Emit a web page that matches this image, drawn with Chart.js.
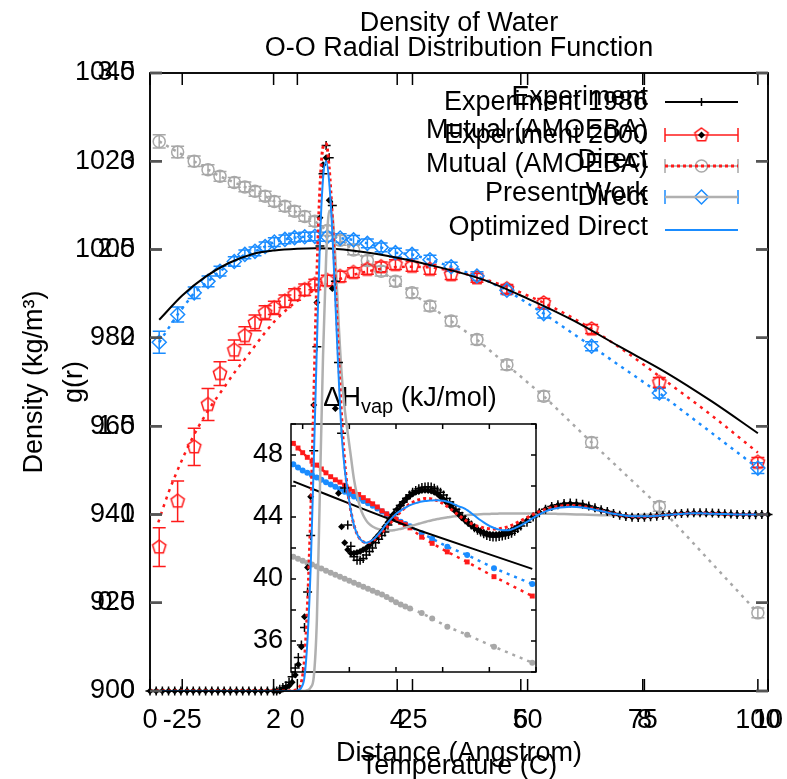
<!DOCTYPE html>
<html>
<head>
<meta charset="utf-8">
<script src="https://cdn.jsdelivr.net/npm/chart.js@4.4.1/dist/chart.umd.min.js"></script>
<style>
  html, body { margin: 0; padding: 0; background: #fff; }
  #wrap { position: relative; width: 787px; height: 779px; overflow: hidden; }
  #wrap canvas { position: absolute; }
</style>
</head>
<body>
<div id="wrap">
  <canvas id="densityChart" width="787" height="779" style="left:0;top:0;width:787px;height:779px"></canvas>
  <canvas id="insetChart" width="300" height="300" style="left:240px;top:380px;width:300px;height:300px"></canvas>
  <canvas id="rdfChart" width="787" height="779" style="left:0;top:0;width:787px;height:779px"></canvas>
</div>
<script>
const FONT = '"Liberation Sans", Arial, Helvetica, sans-serif';
const FS = 27;
const RED = '#ff1a1a';
const BLUE = '#1a8cff';
const GRAY = '#a8a8a8';

// ---- Density of water (temperature in C, density in kg/m3) ----
const tempSim = [-30, -26, -22.4, -19.4, -16.8, -13.7, -11.4, -9.2, -7, -5, -2.7, -0.6, 1.6, 3.8, 6.5, 9.3, 12.2, 15.2, 18.2, 21.3, 24.9, 28.8, 33.4, 39, 45.5, 53.5, 63.9, 78.6, 100];
const densMutual = [932.6, 943.0, 955.3, 964.9, 971.9, 977.2, 980.5, 983.4, 985.7, 986.8, 988.3, 989.8, 990.9, 992.1, 993.0, 993.9, 994.8, 995.5, 996.1, 996.6, 996.2, 995.5, 994.3, 993.6, 991.1, 987.9, 982.0, 969.9, 951.8];
const errMutual = [4.4, 4.6, 4.2, 3.6, 2.7, 2.3, 2.0, 1.8, 1.6, 1.5, 1.4, 1.3, 1.3, 1.2, 1.2, 1.2, 1.1, 1.1, 1.1, 1.1, 1.1, 1.1, 1.1, 1.0, 1.0, 1.0, 1.0, 1.1, 1.1];
const densPresent = [979.0, 985.3, 990.2, 992.8, 995.1, 997.3, 998.9, 999.6, 1000.7, 1001.7, 1002.3, 1002.7, 1002.9, 1003.0, 1002.9, 1002.6, 1002.2, 1001.4, 1000.5, 999.3, 998.9, 997.7, 996.1, 994.0, 990.8, 985.5, 978.1, 967.5, 950.5];
const errPresent = [2.5, 1.7, 1.3, 1.2, 1.1, 1.1, 1.0, 1.0, 1.0, 1.0, 1.0, 1.0, 1.0, 1.0, 1.0, 1.0, 1.0, 1.0, 1.0, 1.0, 1.0, 1.0, 1.0, 1.0, 1.0, 1.0, 1.0, 1.1, 1.2];
const densDirect = [1024.5, 1022.1, 1020.0, 1018.1, 1016.6, 1015.2, 1014.2, 1013.2, 1012.1, 1010.9, 1009.8, 1008.7, 1007.5, 1006.4, 1004.3, 1002.1, 999.9, 997.5, 995.1, 992.8, 990.2, 987.2, 983.8, 979.6, 973.9, 966.8, 956.3, 941.8, 917.7];
const errDirect = [1.5, 1.3, 1.2, 1.1, 1.1, 1.1, 1.1, 1.1, 1.1, 1.1, 1.1, 1.1, 1.1, 1.1, 1.1, 1.1, 1.1, 1.1, 1.1, 1.1, 1.1, 1.1, 1.1, 1.1, 1.1, 1.1, 1.1, 1.1, 1.1];
const tempExp = [-30, -25, -20, -15, -10, -5, 0, 4, 10, 20, 30, 40, 50, 60, 70, 80, 90, 100];
const densExp = [984.1, 989.6, 993.8, 996.9, 998.9, 999.8, 1000.2, 1000.3, 1000.0, 998.5, 996.2, 993.3, 988.9, 983.9, 978.0, 972.2, 965.6, 958.4];
// dotted fit through the Mutual (AMOEBA) points
const tempMutualFit = [-30.2, -28, -25.2, -23.2, -19.7, -16.1, -13.4, -11.3, -9.2, -7, -4.8, 0, 5, 10, 15, 20, 25, 30, 40, 50, 60, 70, 80, 90, 100];
const densMutualFit = [938.2, 944.9, 952.0, 956.5, 963.0, 968.5, 972.5, 975.3, 978.2, 981.2, 983.9, 988.4, 991.5, 993.6, 995.0, 995.9, 996.1, 995.8, 993.5, 989.6, 984.4, 977.8, 970.2, 962.4, 954.0];

const tempTicks = [-25, 0, 25, 50, 75, 100];
const densTicks = [900, 920, 940, 960, 980, 1000, 1020, 1040];
const densLabels = ['Experiment', 'Mutual (AMOEBA)', 'Direct', 'Present Work'];

// ---- O-O radial distribution function (distance in Angstrom) ----
const dist = [0, 0.1, 0.2, 0.3, 0.4, 0.5, 0.6, 0.7, 0.8, 0.9, 1, 1.1, 1.2, 1.3, 1.4, 1.5, 1.6, 1.7, 1.8, 1.9, 2,
  2.05, 2.1, 2.15, 2.2, 2.25, 2.3, 2.35, 2.4, 2.45, 2.5, 2.55, 2.6, 2.65, 2.7, 2.75, 2.8, 2.85, 2.9, 2.95, 3,
  3.05, 3.1, 3.15, 3.2, 3.25, 3.3, 3.35, 3.4, 3.45, 3.5, 3.55, 3.6, 3.65, 3.7, 3.75, 3.8, 3.85, 3.9, 3.95, 4,
  4.05, 4.1, 4.15, 4.2, 4.25, 4.3, 4.35, 4.4, 4.45, 4.5, 4.55, 4.6, 4.65, 4.7, 4.75, 4.8, 4.85, 4.9, 4.95, 5,
  5.05, 5.1, 5.15, 5.2, 5.25, 5.3, 5.35, 5.4, 5.45, 5.5, 5.55, 5.6, 5.65, 5.7, 5.75, 5.8, 5.85, 5.9, 5.95, 6,
  6.1, 6.2, 6.3, 6.4, 6.5, 6.6, 6.7, 6.8, 6.9, 7, 7.1, 7.2, 7.3, 7.4, 7.5, 7.6, 7.7, 7.8, 7.9, 8,
  8.1, 8.2, 8.3, 8.4, 8.5, 8.6, 8.7, 8.8, 8.9, 9, 9.1, 9.2, 9.3, 9.4, 9.5, 9.6, 9.7, 9.8, 9.9, 10];
const gExp1986 = [0, 0, 0, 0, 0, 0, 0, 0, 0, 0, 0, 0, 0, 0, 0, 0, 0, 0, 0, 0, 0,
  0, 0.01, 0.02, 0.03, 0.05, 0.08, 0.13, 0.19, 0.26, 0.36, 0.56, 0.88, 1.36, 1.95, 2.52, 2.93, 3.09, 3.02, 2.75, 2.32,
  1.86, 1.46, 1.15, 0.94, 0.82, 0.76, 0.74, 0.74, 0.75, 0.77, 0.79, 0.81, 0.84, 0.86, 0.88, 0.9, 0.94, 0.97, 1.0, 1.03,
  1.05, 1.07, 1.09, 1.11, 1.125, 1.135, 1.145, 1.152, 1.156, 1.157, 1.155, 1.148, 1.138, 1.125, 1.11, 1.09, 1.07, 1.05, 1.03, 1.01,
  0.99, 0.97, 0.955, 0.94, 0.925, 0.91, 0.9, 0.89, 0.88, 0.875, 0.872, 0.872, 0.875, 0.878, 0.882, 0.887, 0.893, 0.905, 0.92, 0.935,
  0.955, 0.985, 1.01, 1.03, 1.045, 1.055, 1.062, 1.065, 1.063, 1.057, 1.048, 1.038, 1.027, 1.016, 1.005, 0.995, 0.988, 0.984, 0.983, 0.984,
  0.987, 0.99, 0.994, 0.998, 1.002, 1.005, 1.008, 1.009, 1.01, 1.009, 1.008, 1.006, 1.004, 1.002, 1.0, 0.999, 0.998, 0.998, 0.999, 1.0];
const gExp2000 = [0, 0, 0, 0, 0, 0, 0, 0, 0, 0, 0, 0, 0, 0, 0, 0, 0, 0, 0, 0, 0,
  0, 0, 0.01, 0.02, 0.03, 0.05, 0.09, 0.15, 0.25, 0.42, 0.7, 1.1, 1.62, 2.2, 2.68, 2.98, 3.02, 2.78, 2.28, 1.6,
  1.12, 0.93, 0.84, 0.8, 0.78, 0.78, 0.785, 0.79, 0.8, 0.81, 0.825, 0.845, 0.865, 0.885, 0.905, 0.93, 0.955, 0.98, 1.005, 1.03,
  1.05, 1.07, 1.09, 1.105, 1.115, 1.125, 1.13, 1.135, 1.137, 1.136, 1.132, 1.125, 1.115, 1.1, 1.085, 1.068, 1.05, 1.032, 1.015, 0.998,
  0.98, 0.965, 0.95, 0.937, 0.925, 0.915, 0.905, 0.898, 0.892, 0.888, 0.886, 0.886, 0.888, 0.892, 0.897, 0.903, 0.91, 0.92, 0.932, 0.945,
  0.965, 0.99, 1.012, 1.03, 1.043, 1.052, 1.058, 1.06, 1.058, 1.053, 1.045, 1.035, 1.025, 1.015, 1.005, 0.997, 0.99, 0.986, 0.985, 0.986,
  0.988, 0.991, 0.995, 0.999, 1.002, 1.005, 1.007, 1.008, 1.008, 1.007, 1.006, 1.005, 1.003, 1.001, 1.0, 0.999, 0.999, 0.999, 1.0, 1.0];
const gMutual = [0, 0, 0, 0, 0, 0, 0, 0, 0, 0, 0, 0, 0, 0, 0, 0, 0, 0, 0, 0, 0,
  0, 0, 0, 0, 0, 0, 0.005, 0.015, 0.05, 0.18, 0.5, 1.0, 1.65, 2.35, 2.85, 3.08, 3.1, 2.96, 2.68, 2.3,
  1.9, 1.56, 1.3, 1.13, 1.02, 0.94, 0.89, 0.86, 0.845, 0.84, 0.842, 0.85, 0.862, 0.877, 0.895, 0.915, 0.935, 0.955, 0.975, 0.995,
  1.013, 1.03, 1.045, 1.058, 1.068, 1.077, 1.083, 1.087, 1.09, 1.09, 1.088, 1.084, 1.078, 1.07, 1.06, 1.048, 1.035, 1.021, 1.007, 0.994,
  0.981, 0.969, 0.958, 0.948, 0.94, 0.933, 0.928, 0.924, 0.921, 0.919, 0.918, 0.918, 0.919, 0.922, 0.926, 0.931, 0.938, 0.946, 0.955, 0.964,
  0.982, 1.0, 1.016, 1.029, 1.039, 1.046, 1.05, 1.051, 1.049, 1.045, 1.038, 1.03, 1.021, 1.012, 1.004, 0.997, 0.992, 0.988, 0.987, 0.987,
  0.989, 0.992, 0.995, 0.998, 1.001, 1.004, 1.006, 1.007, 1.007, 1.006, 1.005, 1.004, 1.002, 1.001, 1.0, 0.999, 0.999, 0.999, 1.0, 1.0];
const gDirect = [0, 0, 0, 0, 0, 0, 0, 0, 0, 0, 0, 0, 0, 0, 0, 0, 0, 0, 0, 0, 0,
  0, 0, 0, 0, 0, 0, 0, 0, 0, 0, 0.005, 0.02, 0.08, 0.4, 1.15, 1.9, 2.45, 2.72, 2.7, 2.45,
  2.1, 1.8, 1.6, 1.46, 1.33, 1.2, 1.11, 1.04, 0.995, 0.965, 0.945, 0.932, 0.923, 0.917, 0.913, 0.91, 0.909, 0.909, 0.911, 0.914,
  0.918, 0.922, 0.927, 0.932, 0.937, 0.942, 0.947, 0.952, 0.957, 0.962, 0.966, 0.97, 0.974, 0.977, 0.98, 0.983, 0.986, 0.988, 0.99, 0.992,
  0.994, 0.995, 0.997, 0.998, 0.999, 1.0, 1.001, 1.002, 1.003, 1.003, 1.004, 1.004, 1.005, 1.005, 1.005, 1.005, 1.005, 1.005, 1.005, 1.005,
  1.005, 1.005, 1.005, 1.004, 1.004, 1.003, 1.002, 1.001, 1.0, 0.999, 0.998, 0.997, 0.996, 0.995, 0.995, 0.995, 0.995, 0.996, 0.997, 0.998,
  0.999, 1.0, 1.001, 1.001, 1.002, 1.002, 1.002, 1.002, 1.001, 1.001, 1.0, 1.0, 1.0, 1.0, 0.999, 0.999, 0.999, 1.0, 1.0, 1.0];
const gOptimized = [0, 0, 0, 0, 0, 0, 0, 0, 0, 0, 0, 0, 0, 0, 0, 0, 0, 0, 0, 0, 0,
  0, 0, 0, 0, 0, 0, 0, 0.005, 0.02, 0.08, 0.3, 0.7, 1.3, 1.95, 2.55, 2.9, 3.0, 2.88, 2.6, 2.2,
  1.8, 1.46, 1.26, 1.13, 1.02, 0.94, 0.89, 0.86, 0.845, 0.84, 0.845, 0.855, 0.87, 0.89, 0.91, 0.935, 0.955, 0.975, 0.993, 1.008,
  1.02, 1.032, 1.042, 1.051, 1.058, 1.064, 1.069, 1.073, 1.076, 1.078, 1.079, 1.08, 1.08, 1.079, 1.077, 1.073, 1.068, 1.061, 1.053, 1.045,
  1.04, 1.032, 1.02, 1.007, 0.994, 0.98, 0.967, 0.955, 0.944, 0.934, 0.926, 0.919, 0.914, 0.911, 0.91, 0.911, 0.915, 0.921, 0.929, 0.938,
  0.958, 0.98, 1.0, 1.017, 1.029, 1.037, 1.041, 1.043, 1.042, 1.039, 1.034, 1.027, 1.019, 1.011, 1.004, 0.998, 0.993, 0.99, 0.989, 0.989,
  0.99, 0.992, 0.995, 0.998, 1.001, 1.003, 1.005, 1.006, 1.006, 1.005, 1.004, 1.003, 1.002, 1.001, 1.0, 0.999, 0.999, 0.999, 1.0, 1.0];

const distTicks = [0, 2, 4, 6, 8, 10];
const grTicks = [0, 0.5, 1, 1.5, 2, 2.5, 3, 3.5];
const rdfLabels = ['Experiment 1986', 'Experiment 2000', 'Mutual (AMOEBA)', 'Direct', 'Optimized Direct'];

// ---- inset: heat of vaporization (kJ/mol) vs temperature ----
const insetTemp = [-4, -2, 0, 2, 4, 6, 8, 10, 12, 14, 16, 18, 20, 22, 24, 26, 28, 30, 32, 34, 36, 38, 40, 42, 44, 46, 51, 55.5, 62, 70.5, 82, 98.4];
const hvapMutual = [48.75, 48.45, 48.15, 47.85, 47.6, 47.35, 47.1, 46.85, 46.6, 46.4, 46.25, 46.05, 45.8, 45.65, 45.45, 45.25, 45.05, 44.85, 44.65, 44.4, 44.2, 44.0, 43.85, 43.65, 43.5, 43.3, 42.7, 42.3, 41.75, 41.1, 40.15, 38.9];
const hvapPresent = [47.4, 47.2, 47.0, 46.85, 46.7, 46.55, 46.4, 46.25, 46.1, 45.95, 45.8, 45.63, 45.48, 45.33, 45.18, 45.03, 44.88, 44.72, 44.55, 44.35, 44.17, 44.0, 43.86, 43.7, 43.55, 43.4, 42.95, 42.6, 42.08, 41.55, 40.7, 39.68];
const hvapDirect = [41.44, 41.3, 41.18, 41.05, 40.93, 40.8, 40.67, 40.54, 40.41, 40.28, 40.15, 40.02, 39.89, 39.76, 39.63, 39.5, 39.37, 39.24, 39.12, 39.0, 38.84, 38.67, 38.5, 38.36, 38.23, 38.1, 37.8, 37.45, 36.92, 36.4, 35.63, 34.6];
const insetExpTemp = [-4, 10, 25, 50, 75, 98.4];
const hvapExp = [46.3, 45.47, 44.57, 43.13, 41.85, 40.65];
const insetTempTicks = [0, 20, 40, 60, 80, 100];
const hvapTicks = [34, 36, 38, 40, 42, 44, 46, 48, 50];

Chart.defaults.font.family = FONT;
Chart.defaults.font.size = FS;
Chart.defaults.color = '#000';

function pts(xs, ys) {
  return xs.map((x, i) => ({ x: x, y: ys[i] }));
}
function fixedTicks(list) {
  return scale => { scale.ticks = list.map(v => ({ value: v })); };
}
// pin the box size of an axis and drop the label overflow padding
function pinX(h) {
  return s => { s.height = h; s.paddingLeft = 0; s.paddingRight = 0; };
}
function pinY(w) {
  return s => { s.width = w; s.paddingTop = 0; s.paddingBottom = 0; };
}

function makePentagon(color, r) {
  const c = document.createElement('canvas');
  c.width = c.height = 2 * r + 4;
  const g = c.getContext('2d');
  g.strokeStyle = color;
  g.lineWidth = 1.5;
  g.beginPath();
  for (let k = 0; k < 5; k++) {
    const a = -Math.PI / 2 + k * 2 * Math.PI / 5;
    const px = c.width / 2 + r * Math.cos(a), py = c.height / 2 + r * Math.sin(a);
    if (k) g.lineTo(px, py); else g.moveTo(px, py);
  }
  g.closePath();
  g.stroke();
  return c;
}
const pentagon = makePentagon(RED, 7);

// marker used by the hand drawn keys
function drawMarker(ctx, type, x, y, color) {
  ctx.save();
  ctx.strokeStyle = color;
  ctx.fillStyle = color;
  ctx.lineWidth = 1.5;
  ctx.beginPath();
  if (type === 'cross') {
    ctx.moveTo(x - 4, y); ctx.lineTo(x + 4, y);
    ctx.moveTo(x, y - 4); ctx.lineTo(x, y + 4);
    ctx.stroke();
  } else if (type === 'dot') {
    ctx.moveTo(x, y - 3.5); ctx.lineTo(x + 3.5, y); ctx.lineTo(x, y + 3.5); ctx.lineTo(x - 3.5, y);
    ctx.closePath(); ctx.fill();
  } else if (type === 'circle') {
    ctx.arc(x, y, 6, 0, Math.PI * 2); ctx.stroke();
  } else if (type === 'diamond') {
    ctx.moveTo(x, y - 7); ctx.lineTo(x + 7, y); ctx.lineTo(x, y + 7); ctx.lineTo(x - 7, y);
    ctx.closePath(); ctx.stroke();
  } else if (type === 'pentagon') {
    ctx.drawImage(pentagon, x - pentagon.width / 2, y - pentagon.height / 2);
  }
  ctx.restore();
}

// plot frame with gnuplot style inward ticks on all four sides
const framePlugin = {
  id: 'frame',
  afterDraw(chart, args, opts) {
    const { ctx, chartArea: a } = chart;
    const x = chart.scales.x, y = chart.scales.y;
    const len = opts.tickLength;
    ctx.save();
    ctx.strokeStyle = '#000';
    ctx.lineWidth = opts.lineWidth;
    ctx.strokeRect(a.left, a.top, a.right - a.left, a.bottom - a.top);
    ctx.beginPath();
    x.ticks.forEach(t => {
      const px = x.getPixelForValue(t.value);
      ctx.moveTo(px, a.bottom); ctx.lineTo(px, a.bottom - len);
      ctx.moveTo(px, a.top); ctx.lineTo(px, a.top + len);
    });
    ctx.stroke();
    ctx.strokeStyle = opts.yTickColor || '#000';
    ctx.lineWidth = opts.yTickWidth || opts.lineWidth;
    ctx.beginPath();
    y.ticks.forEach(t => {
      const py = y.getPixelForValue(t.value);
      ctx.moveTo(a.left, py); ctx.lineTo(a.left + len, py);
      ctx.moveTo(a.right, py); ctx.lineTo(a.right - len, py);
    });
    ctx.stroke();
    ctx.restore();
  }
};

// vertical error bars with caps, for datasets that carry an errors array
const errorBarPlugin = {
  id: 'errorBars',
  beforeDatasetsDraw(chart) {
    const { ctx } = chart;
    const x = chart.scales.x, y = chart.scales.y;
    chart.data.datasets.forEach(ds => {
      if (!ds.errors) return;
      ctx.save();
      ctx.strokeStyle = ds.borderColor;
      ctx.lineWidth = 1.5;
      ctx.beginPath();
      ds.data.forEach((p, i) => {
        const px = x.getPixelForValue(p.x);
        const y1 = y.getPixelForValue(p.y - ds.errors[i]);
        const y2 = y.getPixelForValue(p.y + ds.errors[i]);
        ctx.moveTo(px, y1); ctx.lineTo(px, y2);
        ctx.moveTo(px - 6.5, y1); ctx.lineTo(px + 6.5, y1);
        ctx.moveTo(px - 6.5, y2); ctx.lineTo(px + 6.5, y2);
      });
      ctx.stroke();
      ctx.restore();
    });
  }
};

// gnuplot like key: text right aligned, sample to its right
const keyPlugin = {
  id: 'key',
  afterDraw(chart, args, opts) {
    const ctx = chart.ctx;
    ctx.save();
    ctx.font = FS + 'px ' + FONT;
    ctx.fillStyle = '#000';
    ctx.textAlign = 'right';
    ctx.textBaseline = 'middle';
    opts.rows.forEach(row => {
      ctx.fillText(row.text, opts.textRight, row.textY);
      const s = row.sample;
      const x0 = opts.x0, x1 = opts.x1, sy = row.y;
      ctx.save();
      ctx.strokeStyle = s.color;
      if (s.line || s.caps) {
        ctx.lineWidth = s.width || 1.5;
        ctx.setLineDash(s.dash || []);
        ctx.beginPath(); ctx.moveTo(x0, sy); ctx.lineTo(x1, sy); ctx.stroke();
        ctx.setLineDash([]);
      }
      if (s.caps) {
        ctx.lineWidth = 1.5;
        ctx.beginPath();
        ctx.moveTo(x0, sy - 7); ctx.lineTo(x0, sy + 7);
        ctx.moveTo(x1, sy - 7); ctx.lineTo(x1, sy + 7);
        ctx.stroke();
      }
      ctx.restore();
      if (s.marker) drawMarker(ctx, s.marker, (x0 + x1) / 2, sy, s.color);
    });
    ctx.restore();
  }
};

// inset title with subscript
const insetTitlePlugin = {
  id: 'insetTitle',
  afterDraw(chart, args, opts) {
    const ctx = chart.ctx;
    ctx.save();
    ctx.fillStyle = '#000';
    ctx.textBaseline = 'alphabetic';
    ctx.textAlign = 'left';
    const big = FS + 'px ' + FONT, small = '20px ' + FONT;
    ctx.font = big;
    const w1 = ctx.measureText('\u0394H').width;
    const w3 = ctx.measureText(' (kJ/mol)').width;
    ctx.font = small;
    const w2 = ctx.measureText('vap').width;
    let x = opts.cx - (w1 + w2 + w3) / 2;
    const base = opts.baseline;
    ctx.font = big; ctx.fillText('\u0394H', x, base); x += w1;
    ctx.font = small; ctx.fillText('vap', x, base + 7); x += w2;
    ctx.font = big; ctx.fillText(' (kJ/mol)', x, base);
    ctx.restore();
  }
};

const common = {
  responsive: false,
  animation: false,
  events: []
};

// ---------------- density chart ----------------
new Chart(document.getElementById('densityChart'), {
  type: 'scatter',
  data: {
    datasets: [
      { label: densLabels[0], data: pts(tempExp, densExp), showLine: true, borderColor: '#000', borderWidth: 2,
        pointRadius: 0, cubicInterpolationMode: 'monotone' },
      { label: densLabels[3], data: pts(tempSim, densPresent), errors: errPresent, showLine: true,
        borderColor: BLUE, borderWidth: 2.5, borderDash: [3, 5], pointStyle: 'rectRot', pointRadius: 7,
        pointBorderWidth: 1.5, pointBorderColor: BLUE, pointBackgroundColor: 'rgba(0,0,0,0)' },
      { label: densLabels[1], data: pts(tempSim, densMutual), errors: errMutual, showLine: false,
        borderColor: RED, pointStyle: pentagon, pointRadius: 7 },
      { label: 'Mutual fit', data: pts(tempMutualFit, densMutualFit), showLine: true, borderColor: RED,
        borderWidth: 2.5, borderDash: [3, 5], pointRadius: 0, cubicInterpolationMode: 'monotone' },
      { label: densLabels[2], data: pts(tempSim, densDirect), errors: errDirect, showLine: true,
        borderColor: GRAY, borderWidth: 2.5, borderDash: [3, 5], pointStyle: 'circle', pointRadius: 6,
        pointBorderWidth: 1.5, pointBorderColor: GRAY, pointBackgroundColor: 'rgba(0,0,0,0)' }
    ]
  },
  options: Object.assign({}, common, {
    layout: { padding: { left: 0, right: 19, top: 0, bottom: 0 } },
    plugins: {
      legend: { display: false },
      tooltip: { enabled: false },
      title: { display: true, fullSize: false, text: 'Density of Water', font: { size: FS, weight: 'normal' },
        padding: { top: 7.2, bottom: 33.4 } },
      frame: { tickLength: 12, lineWidth: 1.5, yTickColor: '#555', yTickWidth: 2.5 },
      key: {
        textRight: 648, x0: 665, x1: 738,
        rows: [
          { text: densLabels[0], textY: 98, y: 102, sample: { line: true, color: '#000', width: 2 } },
          { text: densLabels[1], textY: 131, y: 135, sample: { caps: true, color: RED, marker: 'pentagon' } },
          { text: densLabels[2], textY: 161, y: 166, sample: { caps: true, color: GRAY, marker: 'circle' } },
          { text: densLabels[3], textY: 194, y: 197, sample: { caps: true, color: BLUE, marker: 'diamond' } }
        ]
      }
    },
    scales: {
      x: {
        type: 'linear', position: 'bottom', min: -32, max: 102.2,
        afterBuildTicks: fixedTicks(tempTicks),
        afterFit: pinX(88),
        grid: { display: false, drawTicks: false }, border: { display: false },
        ticks: { padding: 13.8, maxRotation: 0, autoSkip: false, callback: v => String(v) },
        title: { display: true, text: 'Temperature (C)', padding: { top: 0, bottom: -4.2 } }
      },
      y: {
        type: 'linear', position: 'left', min: 900, max: 1040,
        afterBuildTicks: fixedTicks(densTicks),
        afterFit: pinY(150),
        grid: { display: false, drawTicks: false }, border: { display: false },
        ticks: { padding: 15, autoSkip: false, callback: v => String(v) },
        title: { display: true, text: 'Density (kg/m\u00b3)', padding: { top: 18.8, bottom: 0 } }
      }
    }
  }),
  plugins: [errorBarPlugin, framePlugin, keyPlugin]
});

// ---------------- inset chart ----------------
new Chart(document.getElementById('insetChart'), {
  type: 'scatter',
  data: {
    datasets: [
      { label: 'Experiment', data: pts(insetExpTemp, hvapExp), showLine: true, borderColor: '#000',
        borderWidth: 2, pointRadius: 0 },
      { label: 'Mutual (AMOEBA)', data: pts(insetTemp, hvapMutual), showLine: true, borderColor: RED,
        borderWidth: 2.5, borderDash: [3, 5], pointStyle: 'rect', pointRadius: 3.5, pointBorderWidth: 0,
        pointBackgroundColor: RED },
      { label: 'Present Work', data: pts(insetTemp, hvapPresent), showLine: true, borderColor: BLUE,
        borderWidth: 2.5, borderDash: [3, 5], pointStyle: 'circle', pointRadius: 3, pointBorderWidth: 0,
        pointBackgroundColor: BLUE },
      { label: 'Direct', data: pts(insetTemp, hvapDirect), showLine: true, borderColor: GRAY,
        borderWidth: 2.5, borderDash: [3, 5], pointStyle: 'circle', pointRadius: 3, pointBorderWidth: 0,
        pointBackgroundColor: GRAY }
    ]
  },
  options: Object.assign({}, common, {
    layout: { padding: { left: 0, right: 3, top: 44, bottom: 0 } },
    plugins: {
      legend: { display: false },
      tooltip: { enabled: false },
      title: { display: false },
      frame: { tickLength: 5, lineWidth: 1.5 },
      insetTitle: { cx: 170, baseline: 26 }
    },
    scales: {
      x: {
        type: 'linear', min: -5, max: 100,
        afterBuildTicks: fixedTicks(insetTempTicks),
        afterFit: pinX(8),
        grid: { display: false, drawTicks: false }, border: { display: false },
        ticks: { display: false }
      },
      y: {
        type: 'linear', min: 34, max: 50,
        afterBuildTicks: fixedTicks(hvapTicks),
        afterFit: pinY(51),
        grid: { display: false, drawTicks: false }, border: { display: false },
        ticks: { padding: 8, autoSkip: false, callback: v => (v % 4 === 0 ? String(v) : '') }
      }
    }
  }),
  plugins: [framePlugin, insetTitlePlugin]
});

// ---------------- radial distribution chart ----------------
new Chart(document.getElementById('rdfChart'), {
  type: 'scatter',
  data: {
    datasets: [
      { label: rdfLabels[4], data: pts(dist, gOptimized), showLine: true, borderColor: BLUE, borderWidth: 2,
        pointRadius: 0, cubicInterpolationMode: 'monotone' },
      { label: rdfLabels[2], data: pts(dist, gMutual), showLine: true, borderColor: RED, borderWidth: 3,
        borderDash: [3, 3], pointRadius: 0, cubicInterpolationMode: 'monotone' },
      { label: rdfLabels[1], data: pts(dist, gExp2000), showLine: false, pointStyle: 'rectRot', pointRadius: 3.5,
        pointBorderWidth: 0, pointBackgroundColor: '#000', clip: false },
      { label: rdfLabels[0], data: pts(dist, gExp1986), showLine: false, pointStyle: 'cross', pointRadius: 4.5,
        pointBorderWidth: 1.5, pointBorderColor: '#000', clip: false },
      { label: rdfLabels[3], data: pts(dist, gDirect), showLine: true, borderColor: '#b0b0b0', borderWidth: 2.5,
        pointRadius: 0, cubicInterpolationMode: 'monotone' }
    ]
  },
  options: Object.assign({}, common, {
    layout: { padding: { left: 0, right: 19, top: 0, bottom: 0 } },
    plugins: {
      legend: { display: false },
      tooltip: { enabled: false },
      title: { display: true, fullSize: false, text: 'O-O Radial Distribution Function',
        font: { size: FS, weight: 'normal' }, padding: { top: 32.1, bottom: 8.5 } },
      frame: { tickLength: 12, lineWidth: 1.5, yTickColor: '#555', yTickWidth: 2.5 },
      key: {
        textRight: 648, x0: 665, x1: 738,
        rows: [
          { text: rdfLabels[0], textY: 102.5, y: 102, sample: { color: '#000', marker: 'cross' } },
          { text: rdfLabels[1], textY: 136, y: 135, sample: { color: '#000', marker: 'dot' } },
          { text: rdfLabels[2], textY: 165, y: 166, sample: { line: true, color: RED, width: 3, dash: [3, 3] } },
          { text: rdfLabels[3], textY: 198, y: 197, sample: { line: true, color: '#b0b0b0', width: 2.5 } },
          { text: rdfLabels[4], textY: 228, y: 230, sample: { line: true, color: BLUE, width: 2 } }
        ]
      }
    },
    scales: {
      x: {
        type: 'linear', position: 'bottom', min: 0, max: 10,
        afterBuildTicks: fixedTicks(distTicks),
        afterFit: pinX(88),
        grid: { display: false, drawTicks: false }, border: { display: false },
        ticks: { padding: 13.8, maxRotation: 0, autoSkip: false, callback: v => String(v) },
        title: { display: true, text: 'Distance (Angstrom)', padding: { top: 0, bottom: 8.8 } }
      },
      y: {
        type: 'linear', position: 'left', min: 0, max: 3.5,
        afterBuildTicks: fixedTicks(grTicks),
        afterFit: pinY(150),
        grid: { display: false, drawTicks: false }, border: { display: false },
        ticks: { padding: 15, autoSkip: false, callback: v => String(v) },
        title: { display: true, text: 'g(r)', padding: { top: 58, bottom: 0 } }
      }
    }
  }),
  plugins: [framePlugin, keyPlugin]
});
</script>
</body>
</html>
